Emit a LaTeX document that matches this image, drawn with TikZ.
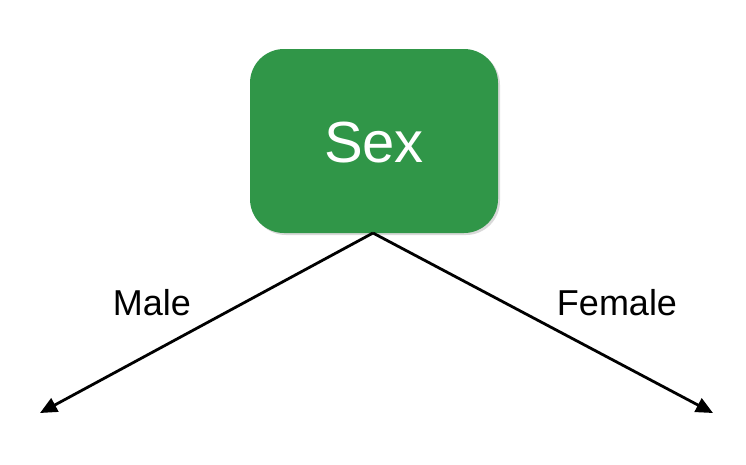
\documentclass[tikz,border=0pt]{standalone}
\usepackage{fontspec}
\setmainfont{Liberation Sans}
\usetikzlibrary{arrows.meta,shadows}
\definecolor{boxgreen}{RGB}{48,150,72}

\begin{document}
\begin{tikzpicture}[x=1pt,y=-1pt]
		\useasboundingbox (0,0) rectangle (746,464);
		\node[fill=boxgreen, rounded corners=34pt, minimum width=248pt, minimum height=184pt,
			drop shadow={shadow xshift=2pt, shadow yshift=-2pt, opacity=0.3}] (S) at (374,141) {};
		\node[text=white, font=\fontsize{58}{60}\selectfont] (Stxt) at (374,143) {Sex};
		\coordinate (T) at (373,233);
		\coordinate (M) at (40,413);
		\coordinate (F) at (713,413);
		\node[font=\fontsize{36}{38}\selectfont] (Ml) at (152,303) {Male};
		\node[font=\fontsize{36}{38}\selectfont] (Fl) at (617,303) {Female};
		\draw[line width=2.8pt, -{Triangle[length=17pt,width=15pt]}]  (T) to (M);
		\draw[line width=2.8pt, -{Triangle[length=17pt,width=15pt]}]  (T) to (F);
	\end{tikzpicture}
\end{document}
